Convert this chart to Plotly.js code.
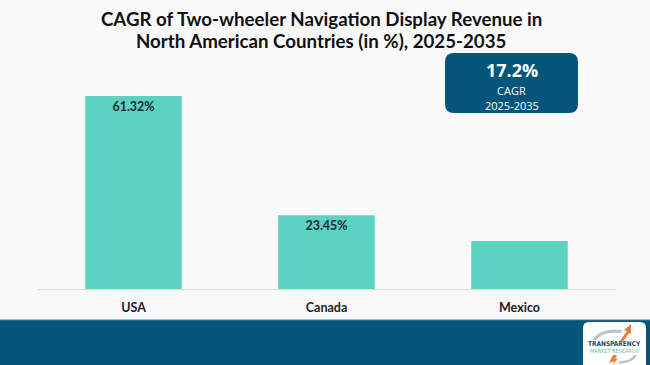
<!DOCTYPE html>
<html><head><meta charset="utf-8">
<script src="https://cdn.plot.ly/plotly-3.0.1.min.js"></script>
<style>html,body{margin:0;padding:0;background:#f9f9f9;}#chart{width:650px;height:365px;}</style>
</head><body><div id="chart"></div>
<script>
const countries = ['USA', 'Canada', 'Mexico'];
const cagrShare = [61.32, 23.45, 15.23];
const barLabels = ['61.32%', '23.45%', ''];
const calloutValue = '17.2%';
const calloutLabel = 'CAGR';
const calloutPeriod = '2025-2035';
const titleLines = ['CAGR of Two-wheeler Navigation Display Revenue in', 'North American Countries (in %), 2025-2035'];

const navy = '#04557a';
const font = 'Lato, "Open Sans", sans-serif';
const trace = {
  type: 'bar', x: countries, y: cagrShare,
  text: barLabels, textposition: 'inside', insidetextanchor: 'end',
  textfont: {family: font, size: 12.5, color: '#1e2b36', weight: 'bold'},
  marker: {color: '#5cd2c3'}, hoverinfo: 'none', cliponaxis: false
};
const W = 650, H = 365, pl = 37, pr = 34, pt = 60, pb = 76;
const pw = W - pl - pr, ph = H - pt - pb;
const px = x => (x - pl) / pw;
const py = y => (H - pb - y) / ph;
function rrect(x0, y0, x1, y1, r) {
  const X0 = px(x0), X1 = px(x1), Y0 = py(y0), Y1 = py(y1);
  const rx = r / pw, ry = r / ph;
  return `M ${X0 + rx} ${Y0} L ${X1 - rx} ${Y0} Q ${X1} ${Y0} ${X1} ${Y0 - ry} L ${X1} ${Y1 + ry} Q ${X1} ${Y1} ${X1 - rx} ${Y1} L ${X0 + rx} ${Y1} Q ${X0} ${Y1} ${X0} ${Y1 + ry} L ${X0} ${Y0 - ry} Q ${X0} ${Y0} ${X0 + rx} ${Y0} Z`;
}
const layout = {
  width: W, height: H,
  paper_bgcolor: '#f9f9f9', plot_bgcolor: '#f9f9f9',
  margin: {l: pl, r: pr, t: pt, b: pb},
  bargap: 0.5, showlegend: false,
  xaxis: {showgrid: false, zeroline: false, showline: true, linecolor: '#dedede', linewidth: 1,
    ticks: '', ticklabelstandoff: 7, tickfont: {family: font, size: 12.5, color: '#222', weight: 'bold'}, fixedrange: true},
  yaxis: {range: [0, 72.77], visible: false, fixedrange: true},
  shapes: [
    {type: 'rect', xref: 'paper', yref: 'paper', x0: px(-5), x1: px(660), y0: py(320), y1: py(370),
      fillcolor: navy, line: {width: 0}, layer: 'below'},
    {type: 'line', xref: 'paper', yref: 'paper', x0: px(-5), x1: px(660), y0: py(320), y1: py(320),
      line: {color: '#3d7f99', width: 1}},
    {type: 'path', xref: 'paper', yref: 'paper', path: rrect(445, 53, 578, 113, 9),
      fillcolor: navy, line: {width: 0}},
    {type: 'path', xref: 'paper', yref: 'paper', path: rrect(583, 322, 646, 372, 6),
      fillcolor: '#ffffff', line: {width: 0}},
    {type: 'path', xref: 'paper', yref: 'paper',
      path: `M ${px(592)} ${py(340)} Q ${px(600)} ${py(327)} ${px(622)} ${py(330)} L ${px(621)} ${py(333)} Q ${px(603)} ${py(331)} ${px(596)} ${py(340)} Z`,
      fillcolor: '#bfc4c8', line: {width: 0}},
    {type: 'path', xref: 'paper', yref: 'paper',
      path: `M ${px(620)} ${py(341)} L ${px(627)} ${py(331)} L ${px(624)} ${py(330)} L ${px(631)} ${py(324)} L ${px(631)} ${py(334)} L ${px(629)} ${py(333)} L ${px(623)} ${py(342)} Z`,
      fillcolor: '#ef7a32', line: {width: 0}},
    {type: 'path', xref: 'paper', yref: 'paper',
      path: `M ${px(613)} ${py(355)} L ${px(609)} ${py(363)} L ${px(614)} ${py(361)} L ${px(612)} ${py(366)} L ${px(618)} ${py(358)} L ${px(615)} ${py(359)} L ${px(617)} ${py(355)} Z`,
      fillcolor: '#ef7a32', line: {width: 0}},
    {type: 'path', xref: 'paper', yref: 'paper',
      path: `M ${px(619)} ${py(364)} Q ${px(634)} ${py(363)} ${px(637)} ${py(355)} L ${px(634)} ${py(355)} Q ${px(630)} ${py(361)} ${px(619)} ${py(361)} Z`,
      fillcolor: '#bfc4c8', line: {width: 0}}
  ],
  annotations: []
};
function ann(x, y, text, size, color, fam) {
  return {xref: 'paper', yref: 'paper', x: px(x), y: py(y), xanchor: 'center', yanchor: 'middle',
    text: text, showarrow: false, borderpad: 0, font: {family: fam || font, size: size, color: color}};
}
const cfont = '"Open Sans", Lato, sans-serif';
layout.annotations = [
  ann(321, 19, '<b>' + titleLines[0] + '</b>', 18.7, '#111'),
  ann(321, 41, '<b>' + titleLines[1] + '</b>', 18.7, '#111'),
  ann(511.5, 70, '<b>' + calloutValue + '</b>', 18, '#ffffff', cfont),
  ann(511.5, 90.5, calloutLabel, 11, '#ffffff', cfont),
  ann(511.5, 105, calloutPeriod, 11, '#ffffff', cfont),
  ann(614.5, 344, '<b>TRANSPARENCY</b>', 6.5, '#1d4f6e', '"DejaVu Sans Condensed", sans-serif'),
  ann(614.5, 351, 'MARKET RESEARCH', 5.5, '#5fc0a8', '"DejaVu Sans Condensed", sans-serif')
];
Plotly.newPlot('chart', [trace], layout, {displayModeBar: false, staticPlot: true});
</script></body></html>
